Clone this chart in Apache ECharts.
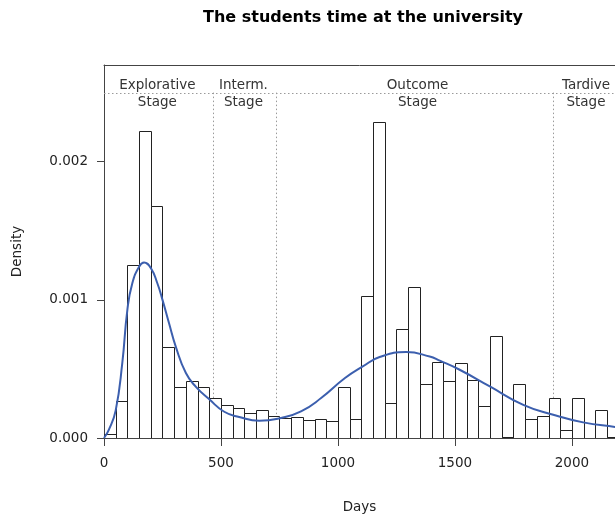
<!DOCTYPE html>
<html>
<head>
<meta charset="utf-8">
<script src="https://cdn.jsdelivr.net/npm/echarts@6/dist/echarts.min.js"></script>
<style>
  html, body { margin: 0; padding: 0; background: #fff; }
  #chart { width: 615px; height: 514px; }
</style>
</head>
<body>
<div id="chart"></div>
<script>
// Histogram of days spent at the university (50-day bins) with a fitted density curve.
const binStarts = [0, 50, 100, 150, 200, 250, 300, 350, 400, 450, 500, 550, 600, 650, 700, 750,
  800, 850, 900, 950, 1000, 1050, 1100, 1150, 1200, 1250, 1300, 1350, 1400, 1450, 1500, 1550,
  1600, 1650, 1700, 1750, 1800, 1850, 1900, 1950, 2000, 2050, 2100, 2150];
const binWidth = 50;
const binDensity = [0.00003, 0.00027, 0.00125, 0.00222, 0.00168, 0.00066, 0.00037, 0.00041,
  0.00037, 0.00029, 0.00024, 0.00022, 0.00018, 0.00020, 0.00016, 0.000145, 0.00015, 0.00013,
  0.000137, 0.00012, 0.00037, 0.00014, 0.00103, 0.00229, 0.00025, 0.00079, 0.00109, 0.00039,
  0.00055, 0.00041, 0.00054, 0.00042, 0.00023, 0.00074, 0.00001, 0.00039, 0.00014, 0.00016,
  0.00029, 0.00006, 0.00029, 0, 0.00020, 0.00001];

// Fitted density curve: [days, density]
const curveDays = [0, 21, 50, 78, 100, 121, 150, 171, 200, 228, 250, 278, 307, 350, 393, 450, 514,
  578, 664, 757, 842, 928, 1030, 1106, 1178, 1291, 1392, 1435, 1520, 1649, 1792, 1920, 2048, 2184, 2200];
const curveDensity = [0, 0.00006, 0.0002, 0.00054, 0.00093, 0.00112, 0.00124, 0.00127, 0.00123,
  0.00112, 0.001, 0.00083, 0.00066, 0.00047, 0.00037, 0.00028, 0.00019, 0.000152, 0.000125,
  0.000145, 0.000192, 0.000289, 0.000434, 0.000518, 0.000586, 0.000622, 0.00059, 0.00056,
  0.000494, 0.000373, 0.00024, 0.000168, 0.000113, 0.00008, 0.000077];

// Stage boundaries and labels
const stageNames = ['Explorative\nStage', 'Interm.\nStage', 'Outcome\nStage', 'Tardive\nStage'];
const stageLabelDays = [228, 596, 1340, 2060];
const stageBreaks = [465, 733, 1920];
const stageLevel = 0.0025;

const xTicks = [0, 500, 1000, 1500, 2000];
const yTicks = [0, 0.001, 0.002];

// visible day range: the plot box continues past the right edge of the page
const xMin = 0, xMax = 2184;

const FONT = 'DejaVu Sans';
const chart = echarts.init(document.getElementById('chart'), null, { renderer: 'canvas' });

const histData = binStarts.map((s, i) => [s, s + binWidth, binDensity[i]]);
const curveData = curveDays.map((d, i) => [d, curveDensity[i]]);

const dotted = { stroke: '#9a9a9a', lineWidth: 1, lineDash: [1.5, 2.5] };
const axisColor = '#444';

chart.setOption({
  animation: false,
  backgroundColor: '#fff',
  grid: { left: 104, top: 65, right: 0, bottom: 76, containLabel: false, outerBoundsMode: 'none' },
  graphic: [{
    type: 'text', x: 363, y: 18,
    style: { text: 'The students time at the university', font: 'bold 16px "' + FONT + '"', fill: '#000',
             align: 'center', verticalAlign: 'middle' }
  }],
  xAxis: [{
    type: 'value', min: xMin, max: xMax, interval: 500,
    name: 'Days', nameLocation: 'middle', nameGap: 62,
    nameTextStyle: { fontFamily: FONT, fontSize: 13.5, color: '#222' },
    axisLine: { show: true, lineStyle: { color: axisColor } },
    axisTick: { show: true, length: 8, lineStyle: { color: axisColor } },
    axisLabel: { margin: 18, fontFamily: FONT, fontSize: 13.5, color: '#222', showMaxLabel: false,
      formatter: v => (xTicks.indexOf(v) >= 0 ? String(v) : '') },
    splitLine: { show: false }
  }, {
    // top edge of the plot box
    type: 'value', position: 'top', min: xMin, max: xMax,
    axisLine: { show: true, onZero: false, lineStyle: { color: axisColor } },
    axisTick: { show: false }, axisLabel: { show: false }, splitLine: { show: false }
  }],
  yAxis: {
    type: 'value', min: 0, max: 0.0027, interval: 0.001,
    name: 'Density', nameLocation: 'middle', nameGap: 80,
    nameTextStyle: { fontFamily: FONT, fontSize: 13.5, color: '#222' },
    axisLine: { show: true, lineStyle: { color: axisColor } },
    axisTick: { show: true, length: 7, lineStyle: { color: axisColor } },
    axisLabel: { margin: 16, fontFamily: FONT, fontSize: 13.5, color: '#222', showMaxLabel: false,
      formatter: v => (yTicks.some(t => Math.abs(t - v) < 1e-9) ? v.toFixed(3) : '') },
    splitLine: { show: false }
  },
  series: [
    {
      // histogram bars
      type: 'custom',
      data: histData,
      encode: { x: [0, 1], y: 2 },
      clip: true,
      renderItem: (params, api) => {
        const p0 = api.coord([api.value(0), api.value(2)]);
        const p1 = api.coord([api.value(1), 0]);
        return {
          type: 'rect',
          shape: { x: Math.round(p0[0]) + 0.5, y: Math.round(p0[1]) + 0.5,
                   width: Math.round(p1[0]) - Math.round(p0[0]), height: Math.round(p1[1]) - Math.round(p0[1]) },
          style: { fill: '#fff', stroke: '#222', lineWidth: 1 }
        };
      },
      z: 2
    },
    {
      // stage boundary lines
      type: 'custom',
      data: stageBreaks.map(d => [d, stageLevel]),
      clip: true,
      renderItem: (params, api) => {
        const top = api.coord([api.value(0), api.value(1)]);
        const bot = api.coord([api.value(0), 0]);
        const children = [{
          type: 'line',
          shape: { x1: Math.round(top[0]) + 0.5, y1: top[1], x2: Math.round(bot[0]) + 0.5, y2: bot[1] },
          style: dotted
        }];
        if (params.dataIndex === 0) {
          const l = api.coord([xMin, stageLevel]);
          const r = api.coord([xMax, stageLevel]);
          children.push({
            type: 'line',
            shape: { x1: l[0], y1: Math.round(l[1]) + 0.5, x2: r[0], y2: Math.round(r[1]) + 0.5 },
            style: dotted
          });
        }
        return { type: 'group', children };
      },
      z: 1
    },
    {
      // stage labels
      type: 'custom',
      data: stageLabelDays.map((d, i) => [d, stageLevel, i]),
      clip: false,
      renderItem: (params, api) => {
        const p = api.coord([api.value(0), api.value(1)]);
        return {
          type: 'text',
          x: p[0], y: p[1] + 1.5,
          style: { text: stageNames[params.dataIndex], font: '13.5px "' + FONT + '"', fill: '#333',
                   align: 'center', verticalAlign: 'middle', lineHeight: 16.5 }
        };
      },
      z: 3
    },
    {
      // fitted density curve
      type: 'line',
      data: curveData,
      smooth: 0.5,
      symbol: 'none',
      clip: true,
      lineStyle: { color: '#3c5fae', width: 2 },
      z: 4
    }
  ]
});
</script>
</body>
</html>
